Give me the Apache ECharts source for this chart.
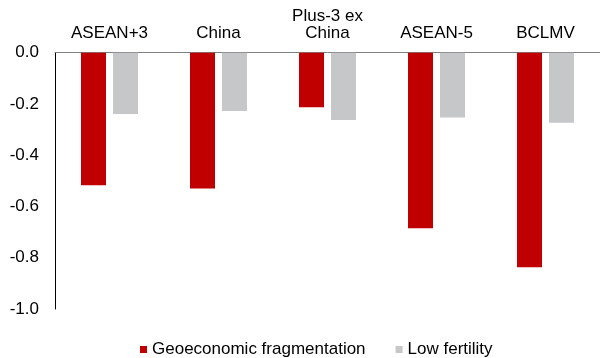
<!DOCTYPE html>
<html><head><meta charset="utf-8">
<script src="https://cdn.jsdelivr.net/npm/echarts@6/dist/echarts.min.js"></script>
<style>html,body{margin:0;padding:0;background:#fff}#c{width:600px;height:358px}</style>
</head><body><div id="c"></div>
<script>
const categories = ['ASEAN+3', 'China', 'Plus-3 ex\nChina', 'ASEAN-5', 'BCLMV'];
const geoFrag = [-0.517, -0.530, -0.213, -0.685, -0.837];
const lowFert = [-0.239, -0.227, -0.263, -0.253, -0.273];
const seriesNames = ['Geoeconomic fragmentation', 'Low fertility'];

const FONT = '"Liberation Sans", Arial, sans-serif';
const chart = echarts.init(document.getElementById('c'));
chart.setOption({
  animation: false,
  grid: { left: 55, right: 0, top: 52.7, bottom: 49 },
  legend: {
    left: 135, top: 336,
    itemWidth: 7, itemHeight: 7, itemGap: 30,
    icon: 'rect',
    textStyle: { fontFamily: FONT, fontSize: 17, color: '#000' },
    data: seriesNames
  },
  xAxis: {
    type: 'category', position: 'top', data: categories,
    axisLine: { show: true, lineStyle: { color: '#808080', width: 1 } },
    axisTick: { show: false },
    axisLabel: { margin: 11, fontFamily: FONT, fontSize: 17, color: '#000', lineHeight: 17, interval: 0 }
  },
  yAxis: {
    type: 'value', min: -1, max: 0, interval: 0.2,
    axisLine: { show: true, lineStyle: { color: '#000', width: 1 } },
    axisTick: { show: false },
    splitLine: { show: false },
    axisLabel: { margin: 16, fontFamily: FONT, fontSize: 17, color: '#000', formatter: v => v.toFixed(1) }
  },
  series: [
    { name: seriesNames[0], type: 'bar', data: geoFrag, barWidth: 25, barGap: '28%', itemStyle: { color: '#C00000' } },
    { name: seriesNames[1], type: 'bar', data: lowFert, barWidth: 25, itemStyle: { color: '#C6C7C8' } }
  ]
});
</script></body></html>
